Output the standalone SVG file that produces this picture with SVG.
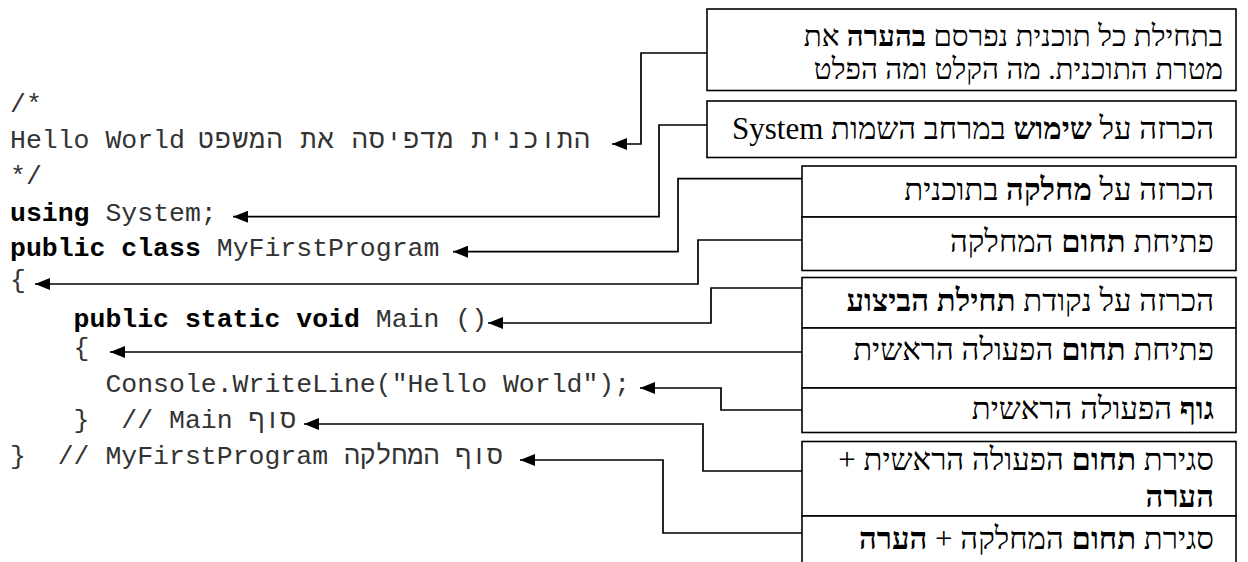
<svg xmlns="http://www.w3.org/2000/svg" width="1248" height="562" viewBox="0 0 1248 562">
<style>
.code{font-family:"Liberation Mono","DejaVu Sans Mono",monospace;font-size:26.5px;fill:#333}
.b{font-weight:bold;fill:#000}
.box{fill:#fff;stroke:#000;stroke-width:1.6}
.lbl{font-family:"Liberation Serif","DejaVu Serif",serif;font-size:31px;fill:#000;direction:rtl;unicode-bidi:embed}
.lbl1{font-size:29.5px}
.con{fill:none;stroke:#000;stroke-width:1.7}
</style>
<defs>
<marker id="ah" markerUnits="userSpaceOnUse" markerWidth="16" markerHeight="12" refX="15" refY="6" orient="auto">
<path d="M0,0 L15,6 L0,12 z" fill="#000"/>
</marker>
</defs>
<rect width="1248" height="562" fill="#fff"/>
<g id="code">
<text class="code" x="10" y="112">/*</text>
<text class="code" x="10" y="148">Hello World</text>
<text class="code" x="198" y="148" textLength="392" lengthAdjust="spacing">התוכנית מדפיסה את המשפט</text>
<text class="code" x="10" y="184">*/</text>
<text class="code" x="10" y="220.5" xml:space="preserve"><tspan class="b">using</tspan> System;</text>
<text class="code" x="10" y="255.5" xml:space="preserve"><tspan class="b">public class</tspan> MyFirstProgram</text>
<text class="code" x="10" y="288">{</text>
<text class="code" x="73.6" y="327" xml:space="preserve"><tspan class="b">public static void</tspan> Main ()</text>
<text class="code" x="73.6" y="356">{</text>
<text class="code" x="105.4" y="392">Console.WriteLine("Hello World");</text>
<text class="code" x="73.6" y="428" xml:space="preserve">}  // Main</text>
<text class="code" x="248.5" y="428" textLength="47.7" lengthAdjust="spacing">סוף</text>
<text class="code" x="10" y="464" xml:space="preserve">}  // MyFirstProgram</text>
<text class="code" x="343.9" y="464" textLength="159" lengthAdjust="spacing">סוף המחלקה</text>
</g>
<g id="connectors">
<path class="con" marker-end="url(#ah)" d="M707,53 H641 V144 H612"/>
<path class="con" marker-end="url(#ah)" d="M707,125 H659 V216.7 H233"/>
<path class="con" marker-end="url(#ah)" d="M802,178.7 H678 V251.7 H453"/>
<path class="con" marker-end="url(#ah)" d="M802,240 H698 V284 H35"/>
<path class="con" marker-end="url(#ah)" d="M802,288 H711 V323 H488"/>
<path class="con" marker-end="url(#ah)" d="M802,352 H110"/>
<path class="con" marker-end="url(#ah)" d="M802,410 H721 V388 H640"/>
<path class="con" marker-end="url(#ah)" d="M802,471 H703 V424 H304"/>
<path class="con" marker-end="url(#ah)" d="M802,533 H663 V460 H520"/>
</g>
<g id="n1">
<rect class="box" x="707" y="9" width="529" height="81.5"/>
<text class="lbl lbl1" x="1223" y="45.5" text-anchor="start">בתחילת כל תוכנית נפרסם <tspan class="b">בהערה</tspan> את</text>
<text class="lbl lbl1" x="1223" y="78.5" text-anchor="start">מטרת התוכנית. מה הקלט ומה הפלט</text>
</g>
<g id="n2">
<rect class="box" x="707" y="101" width="529" height="56.5"/>
<text class="lbl" x="1214" y="139" text-anchor="start">הכרזה על <tspan class="b">שימוש</tspan> במרחב השמות System</text>
</g>
<g id="n3">
<rect class="box" x="802" y="166" width="434" height="51"/>
<text class="lbl" x="1214" y="200" text-anchor="start">הכרזה על <tspan class="b">מחלקה</tspan> בתוכנית</text>
</g>
<g id="n4">
<rect class="box" x="802" y="217" width="434" height="53.5"/>
<text class="lbl" x="1214" y="252" text-anchor="start">פתיחת <tspan class="b">תחום</tspan> המחלקה</text>
</g>
<g id="n5">
<rect class="box" x="802" y="277.5" width="434" height="50.5"/>
<text class="lbl" x="1214" y="311" text-anchor="start">הכרזה על נקודת <tspan class="b">תחילת הביצוע</tspan></text>
</g>
<g id="n6">
<rect class="box" x="802" y="328" width="434" height="60"/>
<text class="lbl" x="1214" y="360" text-anchor="start">פתיחת <tspan class="b">תחום</tspan> הפעולה הראשית</text>
</g>
<g id="n7">
<rect class="box" x="802" y="388" width="434" height="44.5"/>
<text class="lbl" x="1214" y="418.5" text-anchor="start"><tspan class="b">גוף</tspan> הפעולה הראשית</text>
</g>
<g id="n8">
<rect class="box" x="802" y="441.5" width="434" height="74.5"/>
<text class="lbl" x="1214" y="470" text-anchor="start">סגירת <tspan class="b">תחום</tspan> הפעולה הראשית +</text>
<text class="lbl b" x="1214" y="507" text-anchor="start">הערה</text>
</g>
<g id="n9">
<rect class="box" x="802" y="516" width="434" height="50"/>
<text class="lbl" x="1214" y="549" text-anchor="start">סגירת <tspan class="b">תחום</tspan> המחלקה + <tspan class="b">הערה</tspan></text>
</g>
</svg>
